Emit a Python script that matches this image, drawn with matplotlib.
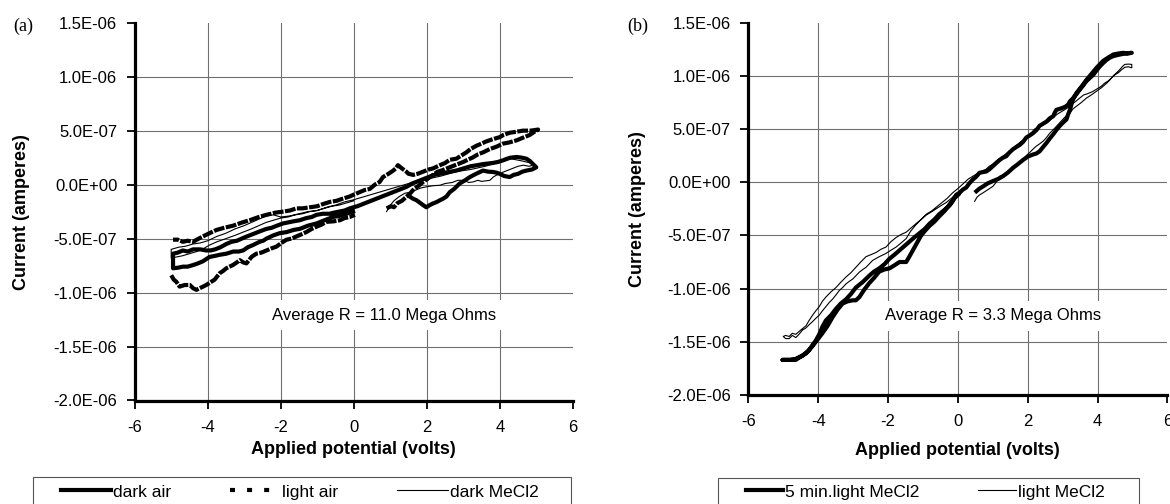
import numpy as np
import matplotlib
matplotlib.use("Agg")
import matplotlib.pyplot as plt
from matplotlib.lines import Line2D
from matplotlib.patches import Rectangle
from matplotlib.ticker import FuncFormatter

plt.rcParams['font.family'] = ['Liberation Sans', 'DejaVu Sans']
plt.rcParams['axes.unicode_minus'] = False

# axis ticks (volts / microamperes)
x_ticks = [-6, -4, -2, 0, 2, 4, 6]
y_ticks_uA = [-2.0, -1.5, -1.0, -0.5, 0.0, 0.5, 1.0, 1.5]

# ---- panel (a): (volts, microamperes) ----
dark_air = [
    # 0 -> +5
    (1.53, -0.11), (1.62, -0.13), (1.72, -0.145), (1.82, -0.17), (1.90, -0.19), (1.99, -0.21),
    (2.08, -0.19), (2.17, -0.175), (2.28, -0.16), (2.36, -0.145), (2.45, -0.13), (2.54, -0.11),
    (2.63, -0.07), (2.75, -0.04), (2.90, 0.01), (3.05, 0.04), (3.18, 0.07), (3.35, 0.10),
    (3.54, 0.13), (3.68, 0.12), (3.82, 0.117), (3.92, 0.11), (4.00, 0.10), (4.12, 0.08),
    (4.27, 0.07), (4.38, 0.09), (4.50, 0.10), (4.62, 0.12), (4.73, 0.13), (4.88, 0.14), (5.00, 0.16),
    # +5 -> -5
    (4.91, 0.19), (4.82, 0.22), (4.73, 0.24), (4.60, 0.25), (4.46, 0.256), (4.30, 0.25),
    (4.20, 0.24), (4.09, 0.225), (3.95, 0.21), (3.80, 0.20), (3.54, 0.19), (3.38, 0.18),
    (3.20, 0.17), (3.00, 0.15), (2.81, 0.13), (2.65, 0.12), (2.50, 0.11), (2.35, 0.10),
    (2.20, 0.09), (2.05, 0.07), (1.90, 0.05), (1.75, 0.03), (1.60, 0.01), (1.45, -0.02),
    (1.30, -0.04), (1.15, -0.06), (1.00, -0.08), (0.85, -0.10), (0.70, -0.12), (0.55, -0.14),
    (0.40, -0.16), (0.25, -0.18), (0.10, -0.20), (-0.11, -0.22), (-0.25, -0.24), (-0.40, -0.25),
    (-0.55, -0.26), (-0.66, -0.27), (-0.85, -0.27), (-1.02, -0.28), (-1.15, -0.30), (-1.30, -0.31),
    (-1.48, -0.33), (-1.65, -0.34), (-1.80, -0.35), (-1.94, -0.36), (-2.10, -0.38), (-2.25, -0.40),
    (-2.39, -0.41), (-2.55, -0.43), (-2.70, -0.45), (-2.85, -0.47), (-3.00, -0.49), (-3.20, -0.52),
    (-3.35, -0.53), (-3.49, -0.55), (-3.65, -0.58), (-3.80, -0.60), (-3.92, -0.61), (-4.04, -0.61),
    (-4.20, -0.60), (-4.40, -0.60), (-4.55, -0.62), (-4.68, -0.61), (-4.82, -0.63), (-4.95, -0.64),
    # -5 -> 0
    (-4.95, -0.775), (-4.82, -0.77), (-4.68, -0.76), (-4.55, -0.76), (-4.40, -0.745), (-4.27, -0.73),
    (-4.13, -0.71), (-4.04, -0.69), (-3.95, -0.67), (-3.80, -0.66), (-3.67, -0.65), (-3.49, -0.64),
    (-3.30, -0.62), (-3.15, -0.62), (-3.03, -0.61), (-2.90, -0.58), (-2.76, -0.56), (-2.58, -0.53),
    (-2.48, -0.52), (-2.39, -0.50), (-2.20, -0.47), (-2.03, -0.45), (-1.84, -0.44), (-1.65, -0.42),
    (-1.48, -0.41), (-1.25, -0.38), (-1.02, -0.36), (-0.80, -0.33), (-0.57, -0.30), (-0.40, -0.29),
    (-0.20, -0.27), (-0.02, -0.25),
]

light_air = [
    (0.90, -0.22), (1.02, -0.20), (1.10, -0.21), (1.20, -0.17), (1.32, -0.15), (1.45, -0.11),
    (1.55, -0.08), (1.65, -0.04), (1.78, -0.01), (1.90, 0.025), (2.05, 0.06), (2.17, 0.09),
    (2.30, 0.12), (2.40, 0.13), (2.55, 0.15), (2.70, 0.17), (2.85, 0.19), (3.00, 0.21),
    (3.12, 0.23), (3.25, 0.25), (3.40, 0.28), (3.55, 0.30), (3.73, 0.33), (3.90, 0.35),
    (4.09, 0.38), (4.25, 0.39), (4.46, 0.41), (4.60, 0.43), (4.82, 0.46), (4.95, 0.49), (5.05, 0.51),
    (4.85, 0.50), (4.64, 0.50), (4.45, 0.49), (4.27, 0.48), (4.10, 0.46), (4.00, 0.44),
    (3.80, 0.42), (3.63, 0.40), (3.50, 0.38), (3.36, 0.36), (3.20, 0.33), (3.09, 0.30),
    (2.95, 0.27), (2.81, 0.24), (2.63, 0.23), (2.50, 0.20), (2.36, 0.18), (2.17, 0.15),
    (2.05, 0.14), (1.90, 0.12), (1.75, 0.10), (1.63, 0.09), (1.50, 0.10), (1.44, 0.12),
    (1.32, 0.15), (1.21, 0.18), (1.15, 0.15), (1.08, 0.13), (0.95, 0.10), (0.80, 0.07),
    (0.71, 0.025), (0.58, 0.00), (0.44, -0.04), (0.30, -0.05), (0.16, -0.07), (0.02, -0.09),
    (-0.11, -0.11), (-0.30, -0.13), (-0.47, -0.15), (-0.65, -0.16), (-0.84, -0.18), (-1.00, -0.20),
    (-1.21, -0.21), (-1.40, -0.22), (-1.57, -0.22), (-1.75, -0.24), (-1.94, -0.25), (-2.15, -0.26),
    (-2.39, -0.28), (-2.60, -0.30), (-2.85, -0.33), (-3.05, -0.35), (-3.30, -0.38), (-3.55, -0.40),
    (-3.76, -0.42), (-3.95, -0.45), (-4.13, -0.48), (-4.30, -0.51), (-4.40, -0.53), (-4.55, -0.52),
    (-4.68, -0.53), (-4.82, -0.51), (-4.95, -0.51),
    (np.nan, np.nan),
    (-5.00, -0.84), (-4.93, -0.88), (-4.86, -0.90), (-4.77, -0.945), (-4.63, -0.93), (-4.49, -0.93),
    (-4.40, -0.96), (-4.31, -0.975), (-4.22, -0.96), (-4.13, -0.945), (-4.04, -0.93), (-3.95, -0.91),
    (-3.81, -0.88), (-3.67, -0.82), (-3.58, -0.80), (-3.49, -0.775), (-3.40, -0.76), (-3.31, -0.745),
    (-3.20, -0.72), (-3.12, -0.70), (-3.03, -0.72), (-2.94, -0.73), (-2.87, -0.70), (-2.80, -0.67),
    (-2.67, -0.64), (-2.53, -0.63), (-2.39, -0.61), (-2.25, -0.59), (-2.12, -0.575), (-1.98, -0.54),
    (-1.84, -0.51), (-1.70, -0.50), (-1.57, -0.48), (-1.43, -0.46), (-1.30, -0.44), (-1.15, -0.41),
    (-1.02, -0.39), (-0.88, -0.37), (-0.75, -0.345), (-0.55, -0.34), (-0.38, -0.33), (-0.25, -0.31),
    (-0.11, -0.30), (0.03, -0.28),
]

dark_mecl2 = [
    (0.90, -0.25), (0.98, -0.20), (1.10, -0.15), (1.25, -0.11), (1.40, -0.08), (1.55, -0.07),
    (1.70, -0.05), (1.85, -0.03), (2.00, -0.02), (2.18, -0.01), (2.36, -0.006), (2.50, 0.01),
    (2.70, 0.02), (2.85, 0.04), (3.00, 0.04), (3.15, 0.02), (3.27, 0.025), (3.40, 0.04),
    (3.50, 0.03), (3.62, 0.035), (3.73, 0.04), (3.82, 0.07), (3.90, 0.086), (4.05, 0.11),
    (4.20, 0.13), (4.35, 0.15), (4.50, 0.17), (4.65, 0.18), (4.80, 0.17), (4.92, 0.18), (5.00, 0.16),
    (4.92, 0.19), (4.85, 0.20), (4.72, 0.21), (4.60, 0.22), (4.45, 0.23), (4.30, 0.24),
    (4.15, 0.22), (4.00, 0.21), (3.80, 0.19), (3.60, 0.17), (3.40, 0.155), (3.20, 0.14),
    (3.00, 0.13), (2.80, 0.12), (2.60, 0.10), (2.40, 0.08), (2.20, 0.065), (2.00, 0.05),
    (1.80, 0.035), (1.60, 0.02), (1.40, 0.00), (1.20, -0.02), (1.00, -0.04), (0.80, -0.06),
    (0.60, -0.08), (0.40, -0.10), (0.20, -0.12), (0.00, -0.14), (-0.25, -0.16), (-0.50, -0.19),
    (-0.75, -0.21), (-1.00, -0.24), (-1.25, -0.25), (-1.50, -0.27), (-1.75, -0.29), (-2.00, -0.30),
    (-2.20, -0.28), (-2.40, -0.29), (-2.60, -0.32), (-2.80, -0.35), (-3.00, -0.38), (-3.25, -0.41),
    (-3.50, -0.45), (-3.75, -0.48), (-4.00, -0.52), (-4.20, -0.54), (-4.40, -0.55), (-4.60, -0.57),
    (-4.80, -0.58), (-5.00, -0.60),
    (-5.00, -0.68), (-4.85, -0.67), (-4.70, -0.66), (-4.50, -0.64), (-4.30, -0.62), (-4.10, -0.59),
    (-3.95, -0.56), (-3.75, -0.53), (-3.50, -0.50), (-3.25, -0.47), (-3.03, -0.44), (-2.80, -0.41),
    (-2.60, -0.38), (-2.40, -0.35), (-2.20, -0.33), (-2.00, -0.31), (-1.80, -0.30), (-1.60, -0.28),
    (-1.40, -0.27), (-1.20, -0.25), (-1.00, -0.24), (-0.80, -0.22), (-0.60, -0.20), (-0.40, -0.19),
    (-0.20, -0.17), (0.00, -0.15),
]

# ---- panel (b) ----
light5_mecl2 = [
    (0.53, -0.085), (0.62, -0.06), (0.72, -0.04), (0.86, -0.01), (1.00, 0.01), (1.15, 0.03),
    (1.29, 0.056), (1.43, 0.09), (1.58, 0.135), (1.72, 0.17), (1.87, 0.21), (2.00, 0.24),
    (2.15, 0.26), (2.25, 0.27), (2.34, 0.29), (2.44, 0.33), (2.54, 0.37), (2.63, 0.41),
    (2.73, 0.45), (2.82, 0.49), (2.92, 0.53), (3.01, 0.56), (3.11, 0.59), (3.16, 0.64),
    (3.21, 0.68), (3.25, 0.73), (3.30, 0.78), (3.40, 0.84), (3.50, 0.88), (3.59, 0.92),
    (3.68, 0.96), (3.78, 1.00), (3.88, 1.04), (3.97, 1.075), (4.07, 1.11), (4.16, 1.14),
    (4.30, 1.17), (4.45, 1.20), (4.60, 1.21), (4.74, 1.216), (4.85, 1.21), (4.98, 1.216),
    (4.80, 1.21), (4.64, 1.20), (4.45, 1.185), (4.35, 1.17), (4.26, 1.15), (4.16, 1.12),
    (4.07, 1.09), (3.97, 1.05), (3.88, 1.01), (3.78, 0.98), (3.68, 0.95), (3.59, 0.91),
    (3.49, 0.87), (3.40, 0.83), (3.30, 0.79), (3.21, 0.76), (3.16, 0.73), (3.08, 0.71),
    (3.01, 0.70), (2.92, 0.69), (2.82, 0.68), (2.77, 0.65), (2.73, 0.62), (2.63, 0.60),
    (2.54, 0.57), (2.44, 0.55), (2.34, 0.53), (2.25, 0.49), (2.15, 0.46), (2.06, 0.44),
    (1.96, 0.42), (1.87, 0.38), (1.77, 0.35), (1.67, 0.33), (1.58, 0.31), (1.48, 0.28),
    (1.39, 0.245), (1.29, 0.23), (1.20, 0.21), (1.10, 0.18), (1.00, 0.15), (0.90, 0.12),
    (0.81, 0.10), (0.72, 0.095), (0.62, 0.088), (0.52, 0.05), (0.43, 0.025), (0.33, -0.01),
    (0.24, -0.05), (0.14, -0.07), (0.05, -0.10), (-0.05, -0.12), (-0.15, -0.18), (-0.24, -0.22),
    (-0.38, -0.26), (-0.53, -0.30), (-0.67, -0.35), (-0.81, -0.39), (-0.95, -0.44), (-1.10, -0.48),
    (-1.25, -0.52), (-1.39, -0.56), (-1.53, -0.60), (-1.67, -0.64), (-1.81, -0.68), (-1.96, -0.72),
    (-2.10, -0.77), (-2.25, -0.81), (-2.40, -0.84), (-2.54, -0.88), (-2.73, -0.94), (-2.92, -0.99),
    (-3.06, -1.05), (-3.20, -1.10), (-3.35, -1.14), (-3.49, -1.19), (-3.63, -1.25), (-3.78, -1.30),
    (-3.88, -1.36), (-3.97, -1.43), (-4.07, -1.49), (-4.16, -1.53), (-4.26, -1.58), (-4.35, -1.61),
    (-4.45, -1.63), (-4.55, -1.65), (-4.64, -1.67), (-4.80, -1.67), (-5.02, -1.67),
    (-4.80, -1.67), (-4.64, -1.66), (-4.45, -1.63), (-4.30, -1.59), (-4.16, -1.54), (-4.02, -1.48),
    (-3.88, -1.42), (-3.73, -1.35), (-3.59, -1.27), (-3.45, -1.20), (-3.30, -1.14), (-3.16, -1.12),
    (-3.01, -1.11), (-2.92, -1.11), (-2.82, -1.08), (-2.68, -1.01), (-2.54, -0.95), (-2.40, -0.90),
    (-2.25, -0.84), (-2.10, -0.82), (-1.96, -0.81), (-1.81, -0.78), (-1.67, -0.75), (-1.48, -0.75),
    (-1.39, -0.70), (-1.29, -0.64), (-1.17, -0.57), (-1.05, -0.50), (-0.95, -0.46), (-0.81, -0.41),
    (-0.67, -0.37), (-0.53, -0.32), (-0.38, -0.27), (-0.24, -0.21), (-0.10, -0.15), (0.00, -0.12),
]

light_mecl2 = [
    (0.48, -0.18), (0.55, -0.14), (0.62, -0.12), (0.72, -0.10), (0.86, -0.07), (1.00, -0.04),
    (1.10, 0.00), (1.20, 0.056), (1.34, 0.07), (1.48, 0.10), (1.58, 0.13), (1.67, 0.15),
    (1.77, 0.18), (1.87, 0.21), (1.96, 0.25), (2.06, 0.28), (2.15, 0.31), (2.25, 0.34),
    (2.34, 0.36), (2.44, 0.385), (2.54, 0.42), (2.63, 0.46), (2.78, 0.51), (2.92, 0.56),
    (3.06, 0.61), (3.21, 0.65), (3.30, 0.69), (3.40, 0.715), (3.54, 0.75), (3.68, 0.79),
    (3.82, 0.82), (3.97, 0.855), (4.12, 0.89), (4.26, 0.93), (4.35, 0.96), (4.45, 1.00),
    (4.55, 1.03), (4.64, 1.06), (4.72, 1.09), (4.78, 1.107), (4.88, 1.11), (4.98, 1.107),
    (4.98, 1.075), (4.88, 1.085), (4.78, 1.08), (4.70, 1.06), (4.60, 1.03), (4.50, 1.01),
    (4.40, 0.98), (4.30, 0.95), (4.20, 0.93), (4.10, 0.90), (4.00, 0.88), (3.85, 0.85),
    (3.70, 0.83), (3.60, 0.82), (3.45, 0.78), (3.30, 0.74), (3.15, 0.70), (3.00, 0.67),
    (2.85, 0.64), (2.70, 0.60), (2.60, 0.57), (2.50, 0.55), (2.35, 0.52), (2.20, 0.50),
    (2.10, 0.46), (2.00, 0.42), (1.90, 0.40), (1.80, 0.38), (1.65, 0.34), (1.50, 0.30),
    (1.35, 0.26), (1.20, 0.22), (1.10, 0.20), (1.00, 0.17), (0.90, 0.15), (0.80, 0.12),
    (0.65, 0.10), (0.50, 0.07), (0.40, 0.05), (0.30, 0.03), (0.20, 0.00), (0.10, -0.03),
    (0.00, -0.06), (-0.15, -0.10), (-0.30, -0.15), (-0.45, -0.19), (-0.60, -0.23), (-0.75, -0.27),
    (-0.90, -0.30), (-1.05, -0.35), (-1.20, -0.40), (-1.35, -0.46), (-1.48, -0.53), (-1.62, -0.57),
    (-1.77, -0.61), (-1.92, -0.64), (-2.06, -0.67), (-2.25, -0.70), (-2.44, -0.735), (-2.54, -0.77),
    (-2.63, -0.80), (-2.72, -0.82), (-2.82, -0.845), (-2.92, -0.88), (-3.01, -0.91), (-3.10, -0.93),
    (-3.20, -0.955), (-3.30, -0.99), (-3.40, -1.02), (-3.49, -1.06), (-3.59, -1.10), (-3.68, -1.13),
    (-3.78, -1.17), (-3.88, -1.21), (-3.97, -1.25), (-4.07, -1.28), (-4.16, -1.31), (-4.26, -1.34),
    (-4.35, -1.37), (-4.45, -1.39), (-4.55, -1.43), (-4.64, -1.46), (-4.74, -1.44), (-4.83, -1.47),
    (-4.93, -1.47), (-5.00, -1.45),
    (-4.93, -1.44), (-4.83, -1.45), (-4.74, -1.42), (-4.64, -1.43), (-4.50, -1.39), (-4.35, -1.35),
    (-4.26, -1.30), (-4.16, -1.25), (-4.07, -1.21), (-3.97, -1.17), (-3.88, -1.12), (-3.78, -1.08),
    (-3.63, -1.03), (-3.49, -0.99), (-3.35, -0.94), (-3.20, -0.89), (-3.06, -0.85), (-2.92, -0.80),
    (-2.78, -0.75), (-2.63, -0.70), (-2.48, -0.68), (-2.34, -0.66), (-2.20, -0.63), (-2.06, -0.61),
    (-1.92, -0.56), (-1.77, -0.52), (-1.62, -0.49), (-1.48, -0.47), (-1.34, -0.43), (-1.20, -0.39),
    (-1.05, -0.35), (-0.91, -0.31), (-0.76, -0.28), (-0.62, -0.25), (-0.48, -0.22), (-0.33, -0.19),
    (-0.18, -0.15), (-0.05, -0.11), (0.05, -0.08),
]

THICK = 3.0
THIN = 0.8

W, H = 1170, 504
fig = plt.figure(figsize=(W / 100, H / 100), dpi=100)


def add_axes_px(left, top, right, bottom):
    return fig.add_axes([left / W, 1 - bottom / H, (right - left) / W, (bottom - top) / H])


def curve(ax, pts, **kw):
    v, i = np.array(pts, dtype=float).T
    return ax.plot(v, i * 1e-6, color='black', solid_joinstyle='round', **kw)[0]


def style(ax, xlab_y, ylab_x):
    ax.set_xlim(-6, 6)
    ax.set_ylim(-2e-6, 1.5e-6)
    ax.set_xticks(x_ticks)
    ax.set_yticks([t * 1e-6 for t in y_ticks_uA])
    ax.yaxis.set_major_formatter(FuncFormatter(lambda v, p: f"{v:.1E}"))
    for s in ('top', 'right'):
        ax.spines[s].set_visible(False)
    for s in ('left', 'bottom'):
        ax.spines[s].set_linewidth(2.3)
        ax.spines[s].set_zorder(5)
    ax.tick_params(direction='out', length=5.5, width=1.3, labelsize=12)
    ax.tick_params(axis='x', pad=8.5)
    ax.tick_params(axis='y', pad=7)
    ax.grid(True, color='#707070', lw=0.8)
    ax.set_axisbelow(True)
    ax.get_xgridlines()[-1].set_visible(False)
    ax.get_ygridlines()[-1].set_visible(False)
    ax.set_xlabel('Applied potential (volts)', fontsize=13, fontweight='bold')
    ax.set_ylabel('Current (amperes)', fontsize=13, fontweight='bold')
    ax.xaxis.set_label_coords(0.5, xlab_y)
    ax.yaxis.set_label_coords(ylab_x, 0.5)


ax_a = add_axes_px(134.7, 22.7, 572.8, 400.5)
ax_b = add_axes_px(748.3, 22.6, 1167.4, 395.0)
style(ax_a, -0.1085, -0.2397)
style(ax_b, -0.1249, -0.244)

# panel (a)
curve(ax_a, dark_mecl2, lw=THIN)
curve(ax_a, dark_air, lw=THICK)
curve(ax_a, light_air, lw=THICK, linestyle=(0, (2.6, 0.35)))
ax_a.text(-2.23, -1.21e-6, 'Average R = 11.0 Mega Ohms', fontsize=12, va='center', ha='left',
          bbox=dict(boxstyle='square,pad=0.45', fc='white', ec='none'))

# panel (b)
curve(ax_b, light_mecl2, lw=THIN)
curve(ax_b, light5_mecl2, lw=THICK)
ax_b.text(-2.10, -1.253e-6, 'Average R = 3.3 Mega Ohms', fontsize=12, va='center', ha='left',
          bbox=dict(boxstyle='square,pad=0.45', fc='white', ec='none'))

fig.text(13 / W, 1 - 26 / H, '(a)', family='Liberation Serif', fontsize=13, va='center')
fig.text(627 / W, 1 - 26 / H, '(b)', family='Liberation Serif', fontsize=13, va='center')

# legends (boxes run off the bottom edge as in the source)
h_dark = Line2D([], [], color='black', lw=THICK)
h_light = Line2D([], [], color='black', lw=THICK, linestyle=(0, (1.2, 2.9)))
h_thin = Line2D([], [], color='black', lw=THIN)

fig.legend([h_dark, h_light, h_thin], ['dark air', 'light air', 'dark MeCl2'],
           loc='center left', bbox_to_anchor=(61 / W, 1 - 492 / H), ncol=3, frameon=False,
           fontsize=12.5, handlelength=2.9, handletextpad=0.1, columnspacing=3.4,
           borderpad=0, borderaxespad=0)
fig.legend([h_dark, h_thin], ['5 min.light MeCl2', 'light MeCl2'],
           loc='center left', bbox_to_anchor=(746 / W, 1 - 492 / H), ncol=2, frameon=False,
           fontsize=12.5, handlelength=2.15, handletextpad=0.1, columnspacing=3.4,
           borderpad=0, borderaxespad=0)
for x0, x1, top in [(32.5, 571, 477), (717.6, 1139, 478)]:
    fig.add_artist(Rectangle((x0 / W, -0.05), (x1 - x0) / W, 1 - top / H + 0.05,
                             transform=fig.transFigure, fill=False, ec='#555555', lw=0.8))

fig.savefig('out.png', dpi=100)
